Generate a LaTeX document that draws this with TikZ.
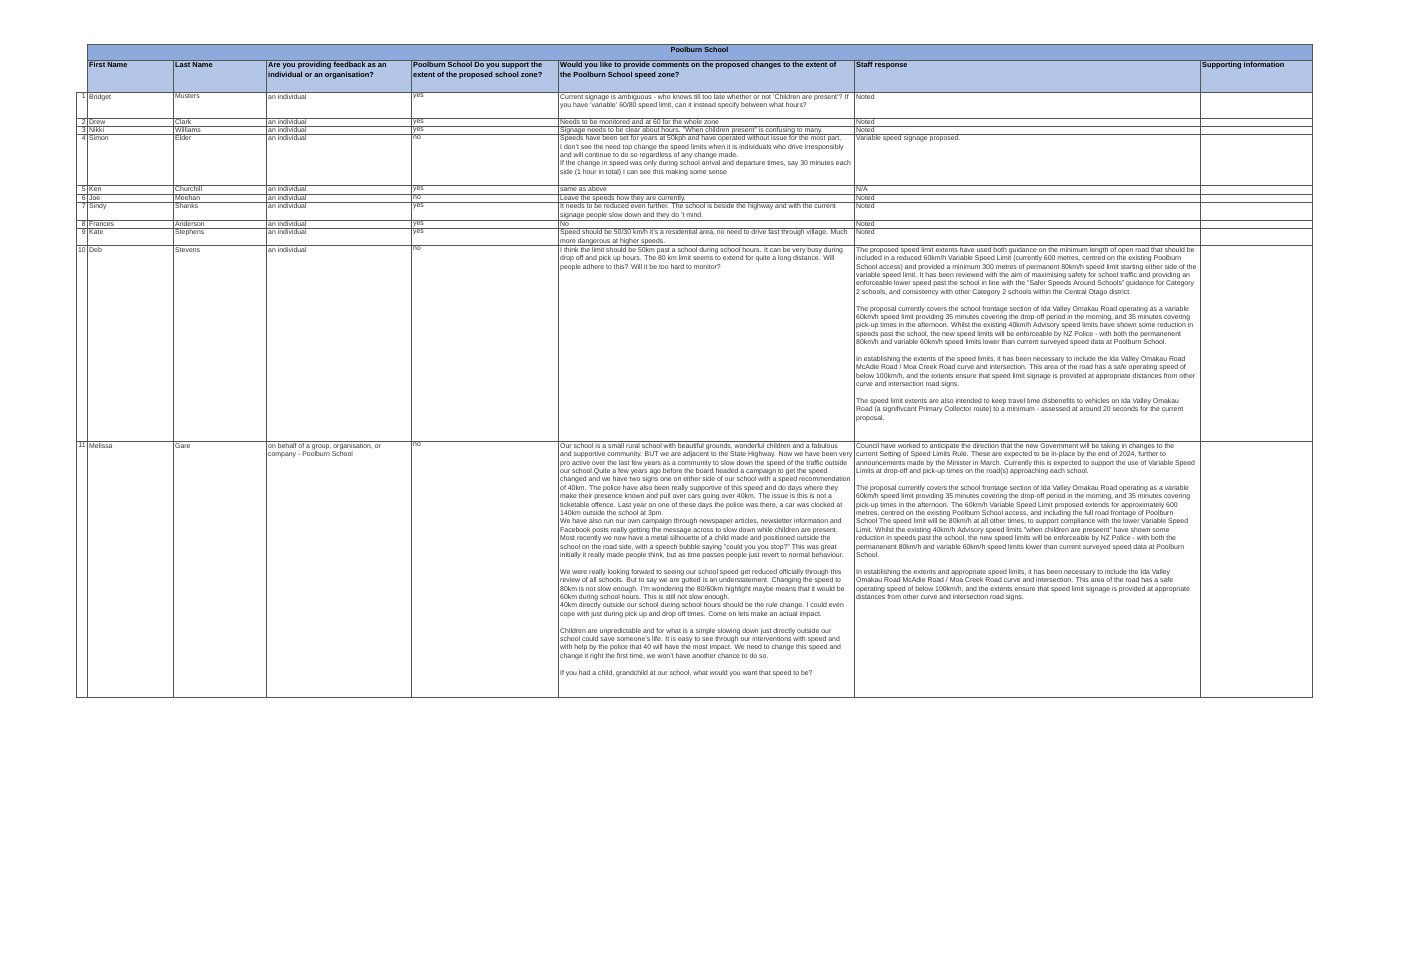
\documentclass[tikz,border=0pt]{standalone}
\usepackage{fontspec}
\setmainfont{Liberation Sans}
\definecolor{titlebg}{HTML}{8EA9DB}
\definecolor{headbg}{HTML}{B4C6E7}
\definecolor{gridc}{HTML}{555555}
\definecolor{txt}{HTML}{333333}
\newcommand{\pgap}{\\[8.4pt]}
\begin{document}
\begin{tikzpicture}[x=1pt,y=-1pt,
  cell/.style={anchor=north west,inner sep=0pt,align=left,font=\fontsize{6.9}{8.4}\selectfont,text=txt},
  head/.style={anchor=north west,inner sep=0pt,align=left,font=\fontsize{7.4}{9.6}\selectfont\bfseries,text=black},
  num/.style={anchor=north east,inner sep=0pt,font=\fontsize{6.9}{8.4}\selectfont,text=txt},
  gridline/.style={draw=gridc,line width=0.8pt}]
\useasboundingbox (0,0) rectangle (1401,955);
\fill[white] (0,0) rectangle (1401,955);
% backgrounds
\fill[titlebg] (87,44) rectangle (1312,60);
\fill[headbg] (87,60) rectangle (1312,92);
% grid
\draw[gridline] (87,44) rectangle (1312,697);
\draw[gridline] (87,60) -- (1312,60);
\foreach \yy in {92,118,126,134,185,194,202,220,228,245,441,697}
  \draw[gridline] (76,\yy) -- (1312,\yy);
\draw[gridline] (76,92) -- (76,697);
\foreach \xx in {173,266,411,558,854,1200}
  \draw[gridline] (\xx,60) -- (\xx,697);
% title and header
\node[font=\fontsize{7.2}{8}\selectfont\bfseries,inner sep=0pt] (title) at (699.5,50) {Poolburn School};
\node[head] (h1) at (89,62) {First Name};
\node[head] (h2) at (175,62) {Last Name};
\node[head] (h3) at (268,62) {Are you providing feedback as an\\individual or an organisation?};
\node[head] (h4) at (413,62) {Poolburn School Do you support the\\extent of the proposed school zone?};
\node[head] (h5) at (560,62) {Would you like to provide comments on the proposed changes to the extent of\\the Poolburn School speed zone?};
\node[head] (h6) at (856,62) {Staff response};
\node[head] (h7) at (1202,62) {Supporting information};
% rows: number, first, last, type, support
\foreach \n/\yy/\fn/\ln/\ty/\su in {1/94/Bridget/Musters/an individual/yes,
  2/119.5/Drew/Clark/an individual/yes,
  3/127.5/Nikki/Williams/an individual/yes,
  4/135.5/Simon/Elder/an individual/no,
  5/186.5/Ken/Churchill/an individual/yes,
  6/195.5/Joe/Meehan/an individual/no,
  7/203.5/Sindy/Shanks/an individual/yes,
  8/221.5/Frances/Anderson/an individual/yes,
  9/229.5/Kate/Stephens/an individual/yes,
  10/247/Deb/Stevens/an individual/no}{
  \node[num] (n\n) at (86,\yy) {\n};
  \node[cell] (f\n) at (89,\yy) {\fn};
  \node[cell] (l\n) at (175,\yy) {\ln};
  \node[cell] (t\n) at (268,\yy) {\ty};
  \node[cell] (s\n) at (413,\yy) {\su};
}
\node[num] (n11) at (86,443) {11};
\node[cell] (f11) at (89,443) {Melissa};
\node[cell] (l11) at (175,443) {Gare};
\node[cell] (t11) at (268,443) {on behalf of a group, organisation, or\\company - Poolburn School};
\node[cell] (s11) at (413,443) {no};
% comments
\node[cell] (c1) at (560,94) {Current signage is ambiguous - who knows till too late whether or not 'Children are present'? If\\you have 'variable' 60/80 speed limit, can it instead specify between what hours?};
\node[cell] (c2) at (560,119.5) {Needs to be monitored and at 60 for the whole zone};
\node[cell] (c3) at (560,127.5) {Signage needs to be clear about hours. "When children present" is confusing to many.};
\node[cell] (c4) at (560,135.5) {Speeds have been set for years at 50kph and have operated without issue for the most part.\\I don't see the need top change the speed limits when it is individuals who drive irresponsibly\\and will continue to do so regardless of any change made.\\If the change in speed was only during school arrival and departure times, say 30 minutes each\\side (1 hour in total) I can see this making some sense};
\node[cell] (c5) at (560,186.5) {same as above};
\node[cell] (c6) at (560,195.5) {Leave the speeds how they are currently.};
\node[cell] (c7) at (560,203.5) {It needs to be reduced even further. The school is beside the highway and with the current\\signage people slow down and they do 't mind.};
\node[cell] (c8) at (560,221.5) {No};
\node[cell] (c9) at (560,229.5) {Speed should be 50/30 km/h it's a residential area, no need to drive fast through village. Much\\more dangerous at higher speeds.};
\node[cell] (c10) at (560,247) {I think the limit should be 50km past a school during school hours. It can be very busy during\\drop off and pick up hours. The 80 km limit seems to extend for quite a long distance. Will\\people adhere to this? Will it be too hard to monitor?};
\node[cell] (c11) at (560,443) {Our school is a small rural school with beautiful grounds, wonderful children and a fabulous\\and supportive community. BUT we are adjacent to the State Highway. Now we have been very\\pro active over the last few years as a community to slow down the speed of the traffic outside\\our school.Quite a few years ago before the board headed a campaign to get the speed\\changed and we have two signs one on either side of our school with a speed recommendation\\of 40km. The police have also been really supportive of this speed and do days where they\\make their presence known and pull over cars going over 40km. The issue is this is not a\\ticketable offence. Last year on one of these days the police was there, a car was clocked at\\140km outside the school at 3pm.\\We have also run our own campaign through newspaper articles, newsletter information and\\Facebook posts really getting the message across to slow down while children are present.\\Most recently we now have a metal silhouette of a child made and positioned outside the\\school on the road side, with a speech bubble saying "could you you stop?" This was great\\initially it really made people think, but as time passes people just revert to normal behaviour.\pgap We were really looking forward to seeing our school speed get reduced officially through this\\review of all schools. But to say we are gutted is an understatement. Changing the speed to\\80km is not slow enough. I'm wondering the 80/60km highlight maybe means that it would be\\60km during school hours. This is still not slow enough.\\40km directly outside our school during school hours should be the rule change. I could even\\cope with just during pick up and drop off times. Come on lets make an actual impact.\pgap Children are unpredictable and for what is a simple slowing down just directly outside our\\school could save someone's life. It is easy to see through our interventions with speed and\\with help by the police that 40 will have the most impact. We need to change this speed and\\change it right the first time, we won't have another chance to do so.\pgap If you had a child, grandchild at our school, what would you want that speed to be?};
% staff responses
\node[cell] (r1) at (856,94) {Noted};
\node[cell] (r2) at (856,119.5) {Noted};
\node[cell] (r3) at (856,127.5) {Noted};
\node[cell] (r4) at (856,135.5) {Variable speed signage proposed.};
\node[cell] (r5) at (856,186.5) {N/A};
\node[cell] (r6) at (856,195.5) {Noted};
\node[cell] (r7) at (856,203.5) {Noted};
\node[cell] (r8) at (856,221.5) {Noted};
\node[cell] (r9) at (856,229.5) {Noted};
\node[cell] (r10) at (856,247) {The proposed speed limit extents have used both guidance on the minimum length of open road that should be\\included in a reduced 60km/h Variable Speed Limit (currently 600 metres, centred on the existing Poolburn\\School access) and provided a minimum 300 metres of permanent 80km/h speed limit starting either side of the\\variable speed limit. It has been reviewed with the aim of maximising safety for school traffic and providing an\\enforceable lower speed past the school in line with the "Safer Speeds Around Schools" guidance for Category\\2 schools, and consistency with other Category 2 schools within the Central Otago district.\pgap The proposal currently covers the school frontage section of Ida Valley Omakau Road operating as a variable\\60km/h speed limit providing 35 minutes covering the drop-off period in the morning, and 35 minutes covering\\pick-up times in the afternoon. Whilst the existing 40km/h Advisory speed limits have shown some reduction in\\speeds past the school, the new speed limits will be enforceable by NZ Police - with both the permanenent\\80km/h and variable 60km/h speed limits lower than current surveyed speed data at Poolburn School.\pgap In establishing the extents of the speed limits, it has been necessary to include the Ida Valley Omakau Road\\McAdie Road / Moa Creek Road curve and intersection. This area of the road has a safe operating speed of\\below 100km/h, and the extents ensure that speed limit signage is provided at appropriate distances from other\\curve and intersection road signs.\pgap The speed limit extents are also intended to keep travel time disbenefits to vehicles on Ida Valley Omakau\\Road (a signifivcant Primary Collector route) to a minimum - assessed at around 20 seconds for the current\\proposal.};
\node[cell] (r11) at (856,443) {Council have worked to anticipate the direction that the new Government will be taking in changes to the\\current Setting of Speed Limits Rule. These are expected to be in-place by the end of 2024, further to\\announcements made by the Minister in March. Currently this is expected to support the use of Variable Speed\\Limits at drop-off and pick-up times on the road(s) approaching each school.\pgap The proposal currently covers the school frontage section of Ida Valley Omakau Road operating as a variable\\60km/h speed limit providing 35 minutes covering the drop-off period in the morning, and 35 minutes covering\\pick-up times in the afternoon. The 60km/h Variable Speed Limit proposed extends for approximately 600\\metres, centred on the existing Poolburn School access, and including the full road frontage of Poolburn\\School The speed limit will be 80km/h at all other times, to support compliance with the lower Variable Speed\\Limit. Whilst the existing 40km/h Advisory speed limits "when children are preseent" have shown some\\reduction in speeds past the school, the new speed limits will be enforceable by NZ Police - with both the\\permanenent 80km/h and variable 60km/h speed limits lower than current surveyed speed data at Poolburn\\School.\pgap In establishing the extents and appropriate speed limits, it has been necessary to include the Ida Valley\\Omakau Road McAdie Road / Moa Creek Road curve and intersection. This area of the road has a safe\\operating speed of below 100km/h, and the extents ensure that speed limit signage is provided at appropriate\\distances from other curve and intersection road signs.};
\end{tikzpicture}
\end{document}
